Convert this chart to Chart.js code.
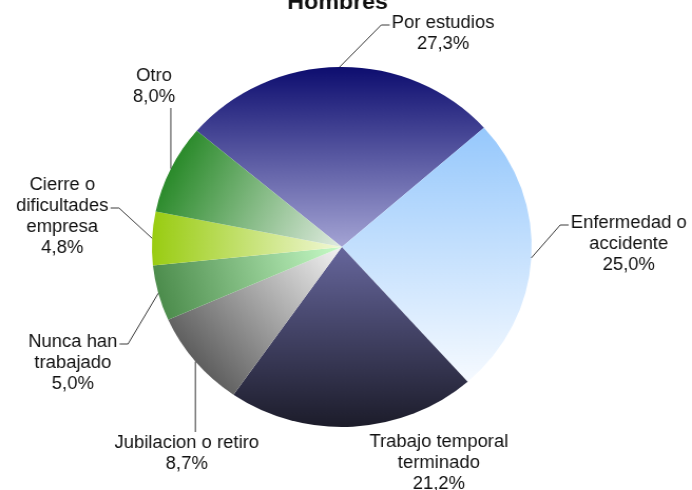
<!DOCTYPE html>
<html>
<head>
<meta charset="utf-8">
<script src="https://cdn.jsdelivr.net/npm/chart.js@4.4.1/dist/chart.umd.min.js"></script>
<style>
  html, body { margin: 0; padding: 0; background: #fff; overflow: hidden; }
  /* the reference pie is a little wider than tall, so the whole canvas is stretched */
  #wrap { width: 656px; height: 490px; transform: scaleX(1.0549); transform-origin: 0 0; }
</style>
</head>
<body>
<div id="wrap"><canvas id="piechart"></canvas></div>
<script>
const chartTitle = 'Hombres';
const categories = [
  ['Por estudios'],
  ['Enfermedad o', 'accidente'],
  ['Trabajo temporal', 'terminado'],
  ['Jubilacion o retiro'],
  ['Nunca han', 'trabajado'],
  ['Cierre o', 'dificultades', 'empresa'],
  ['Otro']
];
const values = [27.3, 25.0, 21.2, 8.7, 5.0, 4.8, 8.0];
const pctLabels = values.map(v => v.toFixed(1).replace('.', ',') + '%');

// gradient colours per slice: outer/dark end and light end
const darkColors  = ['#0d0d6f', '#96c8fc', '#1c1c2a', '#5e5e5e', '#4c8c4c', '#99cc11', '#2a8a2a'];
const lightColors = ['#a4a4d4', '#f6faff', '#66669c', '#f4f4f4', '#c8fcc8', '#f2f8d8', '#e2ece2'];
// gradient direction in degrees (screen), null = from the rim toward the centre
const gradAngle = [90, 90, -90, null, null, null, null];

// text block: centre x, first baseline, leader type, line the leader attaches to
const labelPos = [
  [420, 28, 'left', 0],
  [596, 228, 'left', 0],
  [416, 447, 'none', 0],
  [177, 448, 'below', 0],
  [69, 347, 'right', 0],
  [59, 190, 'right', 1],
  [146, 81, 'above', 0]
];

const ROTATION = -49.8;
const LINE_H = 21;
const LABEL_FONT = '17.5px "Liberation Sans", Arial, sans-serif';

function sliceGradient(context) {
  const chart = context.chart;
  const area = chart.chartArea;
  const i = context.dataIndex;
  if (!area || i === undefined) return darkColors[i] || '#888';
  const cx = (area.left + area.right) / 2, cy = (area.top + area.bottom) / 2;
  const r = Math.min(area.right - area.left, area.bottom - area.top) / 2;
  const total = values.reduce((a, b) => a + b, 0);
  let a0 = ROTATION;
  for (let j = 0; j < i; j++) a0 += values[j] / total * 360;
  const a1 = a0 + values[i] / total * 360;
  const toRad = d => (d - 90) * Math.PI / 180;
  let dir;
  if (gradAngle[i] === null) {
    const m = toRad((a0 + a1) / 2);
    dir = [-Math.cos(m), -Math.sin(m)];
  } else {
    const g = gradAngle[i] * Math.PI / 180;
    dir = [Math.cos(g), Math.sin(g)];
  }
  const pts = [[cx, cy]];
  for (let k = 0; k <= 24; k++) {
    const t = toRad(a0 + (a1 - a0) * k / 24);
    pts.push([cx + r * Math.cos(t), cy + r * Math.sin(t)]);
  }
  let lo = Infinity, hi = -Infinity;
  pts.forEach(p => {
    const s = (p[0] - cx) * dir[0] + (p[1] - cy) * dir[1];
    lo = Math.min(lo, s);
    hi = Math.max(hi, s);
  });
  const grad = chart.ctx.createLinearGradient(cx + dir[0] * lo, cy + dir[1] * lo, cx + dir[0] * hi, cy + dir[1] * hi);
  grad.addColorStop(0, darkColors[i]);
  grad.addColorStop(1, lightColors[i]);
  return grad;
}

const labelPlugin = {
  id: 'sliceLabels',
  afterDatasetsDraw(chart) {
    const ctx = chart.ctx;
    const arcs = chart.getDatasetMeta(0).data;
    ctx.save();
    ctx.fillStyle = '#111';
    ctx.textAlign = 'center';
    ctx.textBaseline = 'alphabetic';

    ctx.font = 'bold 22px "Liberation Sans", Arial, sans-serif';
    ctx.fillText(chartTitle, 320, 9);

    ctx.font = LABEL_FONT;
    ctx.strokeStyle = '#3a3a3a';
    ctx.lineWidth = 1;
    arcs.forEach((arc, i) => {
      const lines = categories[i].concat([pctLabels[i]]);
      const [tx, ty, leader, attach] = labelPos[i];
      const w = Math.max(...lines.map(l => ctx.measureText(l).width));
      lines.forEach((l, k) => ctx.fillText(l, tx, ty + k * LINE_H));

      const p = arc.getProps(['x', 'y', 'startAngle', 'endAngle', 'outerRadius'], true);
      const mid = (p.startAngle + p.endAngle) / 2;
      const ex = p.x + Math.cos(mid) * p.outerRadius;
      const ey = p.y + Math.sin(mid) * p.outerRadius;
      const ly = ty + attach * LINE_H - 3;
      ctx.beginPath();
      if (leader === 'left') {
        const x1 = tx - w / 2 - 2;
        ctx.moveTo(ex, ey);
        ctx.lineTo(x1 - 8, ly);
        ctx.lineTo(x1, ly);
      } else if (leader === 'right') {
        const x1 = tx + w / 2 + 2;
        ctx.moveTo(ex, ey);
        ctx.lineTo(x1 + 8, ly);
        ctx.lineTo(x1, ly);
      } else if (leader === 'above') {
        ctx.moveTo(ex, ey);
        ctx.lineTo(ex, ty + (lines.length - 1) * LINE_H + 6);
      } else if (leader === 'below') {
        ctx.moveTo(ex, ey);
        ctx.lineTo(ex, ty - 16);
      }
      ctx.stroke();
    });
    ctx.restore();
  }
};

const ctx = document.getElementById('piechart').getContext('2d');
new Chart(ctx, {
  type: 'pie',
  data: {
    labels: categories,
    datasets: [{
      data: values,
      backgroundColor: sliceGradient,
      borderWidth: 0,
      hoverOffset: 0
    }]
  },
  options: {
    responsive: true,
    maintainAspectRatio: false,
    animation: false,
    rotation: ROTATION,
    layout: { padding: { left: 0, right: 8, top: 67, bottom: 63 } },
    plugins: {
      legend: { display: false },
      tooltip: { enabled: false }
    }
  },
  plugins: [labelPlugin]
});
</script>
</body>
</html>
